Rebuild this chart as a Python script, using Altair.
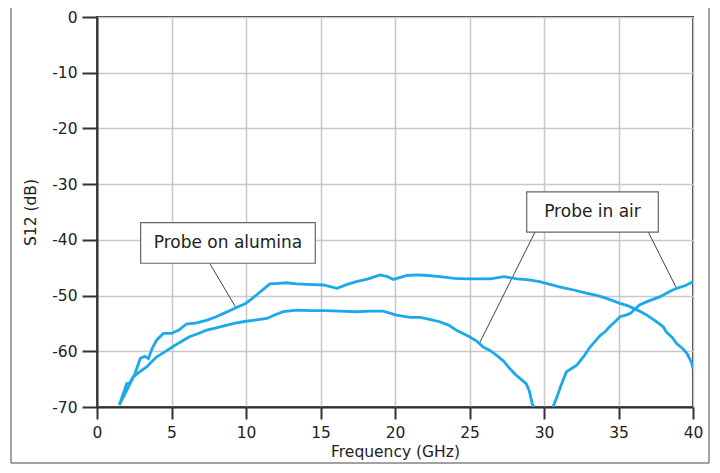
import altair as alt
import pandas as pd

# Probe on alumina (upper curve mid-band)
alu_f = [1.5, 2.0, 2.2, 2.55, 2.9, 3.2, 3.45, 3.7, 4.0, 4.45, 5.0, 5.5, 6.0, 6.7, 7.4, 8.0, 8.5, 9.0, 9.4,
         10.0, 10.7, 11.2, 11.6, 12.2, 12.7, 13.4, 14.1, 15.2, 16.1, 16.8, 17.4, 18.2, 19.0, 19.5, 19.9,
         20.8, 21.5, 22.2, 23.0, 24.0, 24.8, 25.6, 26.4, 27.3, 28.2, 29.0, 29.7, 30.4, 31.1, 32.0, 32.9,
         33.6, 34.2, 35.1, 35.6, 36.0, 36.5, 36.9, 37.5, 38.0, 38.2, 38.6, 38.9, 39.3, 39.6, 39.9, 40.0]
alu_db = [-69.6, -65.8, -65.7, -64.0, -61.3, -60.9, -61.3, -59.5, -58.0, -56.8, -56.8, -56.2, -55.1, -54.9,
          -54.4, -53.8, -53.2, -52.6, -52.1, -51.4, -49.9, -48.8, -47.9, -47.8, -47.7, -47.9, -48.0, -48.1,
          -48.7, -48.0, -47.5, -47.0, -46.3, -46.6, -47.1, -46.4, -46.3, -46.4, -46.6, -46.9, -47.0, -47.0,
          -47.0, -46.6, -47.0, -47.2, -47.5, -48.0, -48.5, -49.0, -49.6, -50.0, -50.5, -51.4, -51.8, -52.3,
          -52.9, -53.5, -54.6, -55.6, -56.5, -57.5, -58.6, -59.5, -60.4, -62.0, -63.1]

# Probe in air, below resonance
air1_f = [1.5, 2.0, 2.44, 2.9, 3.33, 4.0, 4.5, 4.9, 5.5, 6.2, 6.8, 7.36, 8.0, 8.47, 9.2, 9.8, 10.6, 11.4,
          12.0, 12.5, 13.4, 14.3, 15.2, 16.3, 17.4, 18.3, 19.2, 20.1, 21.0, 21.7, 22.4, 23.0, 23.6, 24.1,
          25.0, 25.5, 25.9, 26.4, 26.8, 27.3, 27.7, 28.1, 28.4, 28.8, 29.0, 29.2, 29.3]
air1_db = [-69.6, -67.0, -64.6, -63.6, -62.8, -61.0, -60.2, -59.5, -58.5, -57.4, -56.8, -56.2, -55.8, -55.5,
           -55.0, -54.7, -54.4, -54.1, -53.4, -52.9, -52.6, -52.7, -52.7, -52.8, -52.9, -52.8, -52.8, -53.5,
           -53.9, -53.9, -54.3, -54.7, -55.3, -56.2, -57.4, -58.2, -59.2, -59.9, -60.7, -61.8, -63.1, -64.2,
           -64.9, -65.8, -67.0, -69.3, -70.0]
# Probe in air, above resonance
air2_f = [30.6, 30.9, 31.1, 31.5, 31.9, 32.2, 32.7, 33.1, 33.5, 33.8, 34.1, 34.4, 34.8, 35.1, 35.5, 35.8,
          36.4, 37.0, 37.8, 38.4, 38.9, 39.5, 40.0]
air2_db = [-70.0, -68.0, -66.4, -63.7, -63.0, -62.5, -60.8, -59.2, -58.0, -57.1, -56.5, -55.6, -54.6, -53.8,
           -53.5, -53.2, -51.7, -51.0, -50.2, -49.3, -48.7, -48.2, -47.5]

# Annotation boxes
box_labels = ["Probe on alumina", "Probe in air"]
box_x1 = [2.93, 28.84]
box_x2 = [14.65, 37.67]
box_y1 = [-36.9, -31.4]
box_y2 = [-44.2, -38.6]

# Leader lines
lead_x1 = [7.58, 29.4, 37.0]
lead_y1 = [-44.3, -38.6, -38.6]
lead_x2 = [9.31, 25.66, 38.86]
lead_y2 = [-52.1, -58.6, -48.5]

x_ticks = list(range(0, 41, 5))
y_ticks = list(range(-70, 1, 10))

rows = []
for f, d in zip(alu_f, alu_db):
    rows.append({"f": f, "db": d, "seg": "alumina"})
for f, d in zip(air1_f, air1_db):
    rows.append({"f": f, "db": d, "seg": "air1"})
for f, d in zip(air2_f, air2_db):
    rows.append({"f": f, "db": d, "seg": "air2"})
curves = pd.DataFrame(rows)

boxes = pd.DataFrame({"label": box_labels, "x1": box_x1, "x2": box_x2, "y1": box_y1, "y2": box_y2})
boxes["xc"] = (boxes["x1"] + boxes["x2"]) / 2
boxes["yc"] = (boxes["y1"] + boxes["y2"]) / 2
leads = pd.DataFrame({"x1": lead_x1, "y1": lead_y1, "x2": lead_x2, "y2": lead_y2})

FONT = "DejaVu Sans"
xscale = alt.Scale(domain=[0, 40], nice=False, zero=False)
yscale = alt.Scale(domain=[-70, 0], nice=False, zero=False)

xaxis = alt.Axis(values=x_ticks, title="Frequency (GHz)", tickSize=12, labelPadding=6, titlePadding=4,
                 labelFlush=False, grid=True)
yaxis = alt.Axis(values=y_ticks, title="S12 (dB)", tickSize=15, labelPadding=5, titlePadding=13,
                 labelFlush=False, grid=True, labelExpr="'' + datum.value")

lines = alt.Chart(curves).mark_line(color="#1ba9ec", strokeWidth=2.8, clip=True).encode(
    x=alt.X("f:Q", scale=xscale, axis=xaxis),
    y=alt.Y("db:Q", scale=yscale, axis=yaxis),
    detail="seg:N",
    order="f:Q",
)

leaders = alt.Chart(leads).mark_rule(color="#444444", strokeWidth=1).encode(
    x=alt.X("x1:Q", scale=xscale), y=alt.Y("y1:Q", scale=yscale),
    x2="x2:Q", y2="y2:Q",
)

rects = alt.Chart(boxes).mark_rect(fill="white", stroke="#666666", strokeWidth=1.2).encode(
    x=alt.X("x1:Q", scale=xscale), x2="x2:Q",
    y=alt.Y("y1:Q", scale=yscale), y2="y2:Q",
)

texts = alt.Chart(boxes).mark_text(font=FONT, fontSize=17, color="#222222").encode(
    x=alt.X("xc:Q", scale=xscale), y=alt.Y("yc:Q", scale=yscale), text="label:N",
)

frame = alt.Chart(pd.DataFrame({"k": [0]})).mark_rect(
    fill="transparent", stroke="#444444", strokeWidth=1, clip=False
).encode(
    x=alt.value(-86), x2=alt.value(612), y=alt.value(-14), y2=alt.value(446),
)

chart = alt.layer(leaders, lines, rects, texts, frame).properties(
    width=596, height=390,
    autosize=alt.AutoSizeParams(type="none"),
    padding={"left": 89, "top": 9, "right": 19, "bottom": 57},
    background="white",
).configure_view(
    stroke="#333333", strokeWidth=2
).configure_axis(
    labelFont=FONT, titleFont=FONT, labelFontSize=15.5, titleFontSize=15.5, titleFontWeight="normal",
    labelColor="#222222", titleColor="#222222",
    domainColor="#333333", domainWidth=2, tickColor="#333333", tickWidth=2,
    gridColor="#c8c8c8", gridWidth=1.5,
)

chart.save("out.html", embed_options={"renderer": "svg", "actions": False})
